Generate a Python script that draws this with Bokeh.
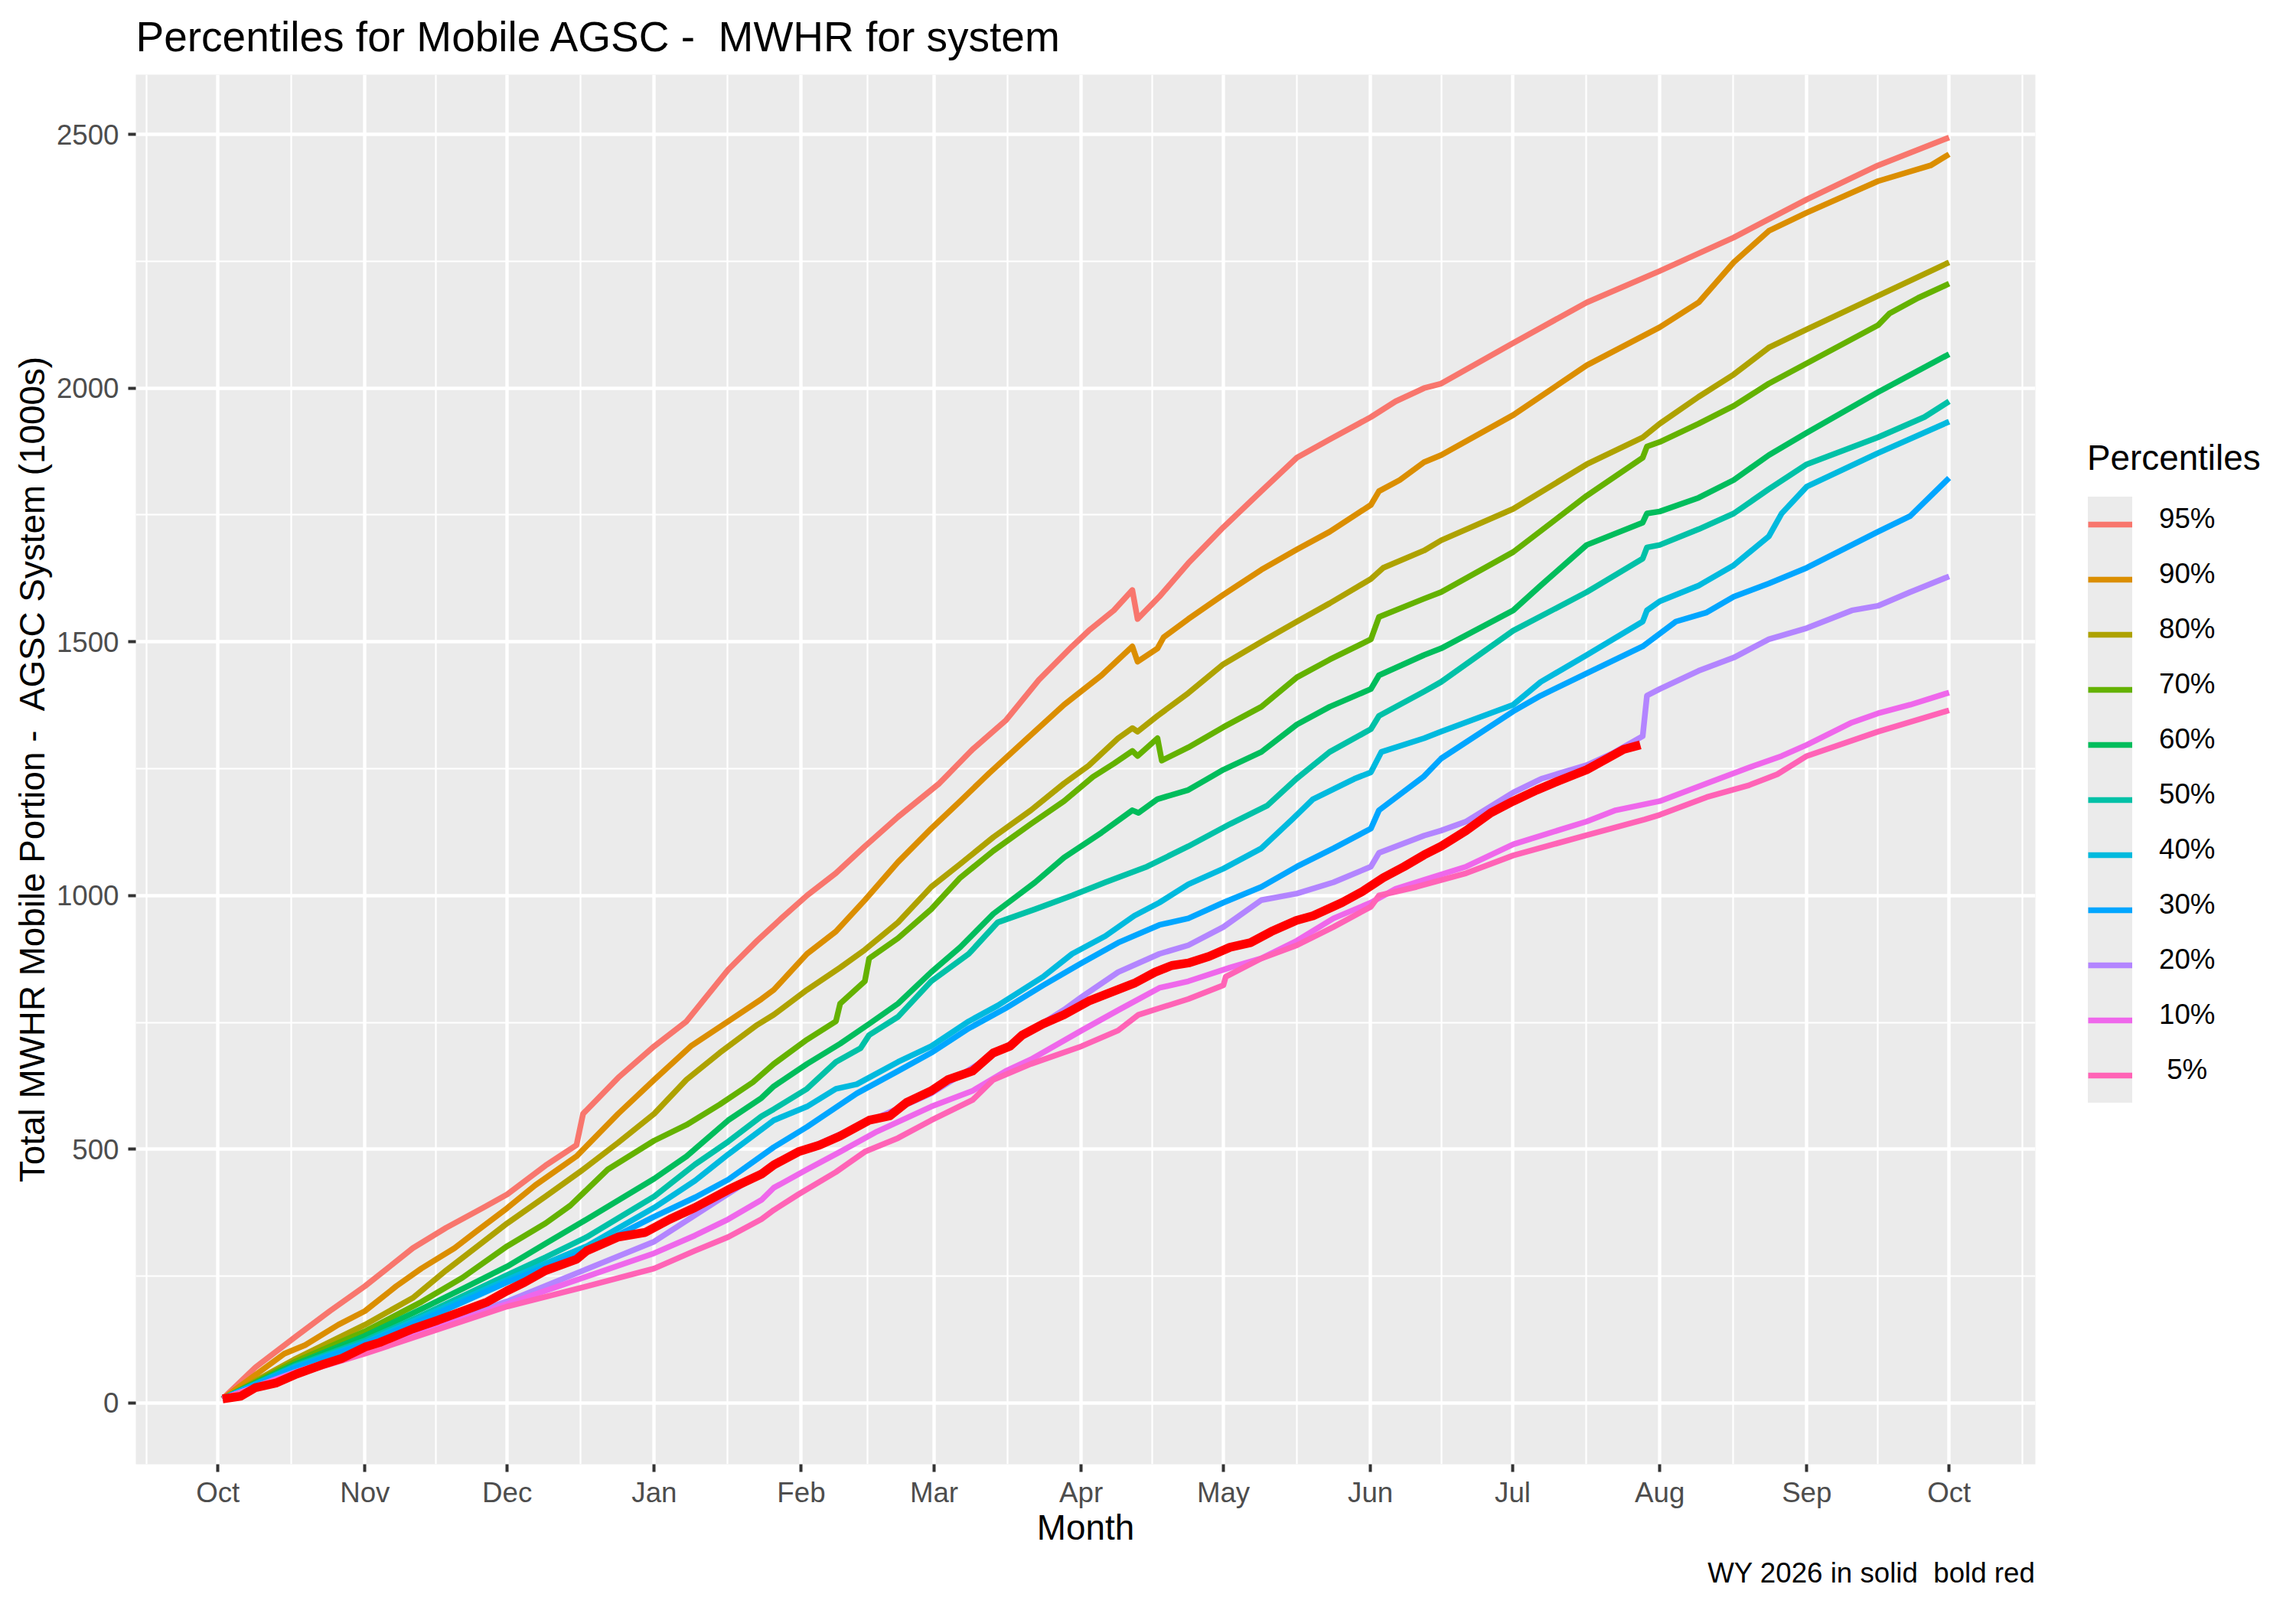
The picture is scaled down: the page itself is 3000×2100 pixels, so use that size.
from bokeh.plotting import figure
from bokeh.models import Range1d, FixedTicker, Legend, LegendItem, Title
from bokeh.layouts import row
from bokeh.embed import file_html
from bokeh.resources import INLINE

FONT = "Liberation Sans"

# ---- axis definitions (days since Oct 1 of water year) ----
month_days = [0, 31, 61, 92, 123, 151, 182, 212, 243, 273, 304, 335, 365]
month_labels = ["Oct", "Nov", "Dec", "Jan", "Feb", "Mar", "Apr", "May", "Jun", "Jul", "Aug", "Sep", "Oct"]
minor_days = [-15, 15.5, 46, 76.5, 107.5, 137, 166.5, 197, 227.5, 258, 288.5, 319.5, 350, 380.5]
y_ticks = [0, 500, 1000, 1500, 2000, 2500]
y_minor = [250, 750, 1250, 1750, 2250]

legend_labels = ["95%", "90%", "80%", "70%", "60%", "50%", "40%", "30%", "20%", "10%", " 5%"]
colors = ["#F8766D", "#DB8E00", "#AEA200", "#64B200", "#00BD5C", "#00C1A7",
          "#00BADE", "#00A6FF", "#B385FF", "#EF67EB", "#FF63B6"]

# ---- series (day, cumulative MWHR in 1000s) ----
p95_day = [1, 7.9, 16.6, 23.6, 31, 41.1, 48.1, 56, 61, 69.1, 75.6, 77, 84.4, 92, 98.8, 107.6, 113.7, 118.8,
           124.2, 130.3, 136.4, 143.4, 152.1, 159.1, 166.1, 173.1, 180.1, 183.6, 188.9, 192.8, 193.9, 198.5,
           204.6, 212, 220, 227.5, 234.4, 243.1, 248.3, 254.3, 257.9, 273.1, 288.6, 304, 319.6, 335, 350, 365]
p95_val = [8, 70, 132, 181, 230, 305, 345, 385, 411, 468, 508, 570, 641, 703, 752, 854, 911, 955,
           1000, 1044, 1097, 1155, 1221, 1288, 1345, 1425, 1491, 1522, 1562, 1602, 1545, 1589,
           1655, 1726, 1797, 1863, 1899, 1943, 1974, 2000, 2009, 2089, 2169, 2231, 2297, 2372, 2439, 2494]

p90_day = [1, 7.9, 14, 18.4, 25.4, 31, 37.6, 42.9, 49.9, 54.2, 61, 66.9, 75.6, 84.4, 92, 99.7, 107.6, 114.6,
           117.2, 124.2, 130.3, 136.4, 143.4, 150.4, 156.5, 162.6, 169.6, 178.4, 186.3, 192.8, 193.9, 198.1,
           199.4, 204.6, 212, 220, 227.5, 234.4, 243.1, 244.8, 249.2, 254.3, 257.9, 273.1, 288.6, 304, 312.2,
           319.6, 327, 335, 350, 361.1, 365]
p90_val = [8, 55, 97, 114, 154, 181, 230, 265, 305, 336, 384, 429, 486, 570, 637, 703, 752, 796,
           814, 885, 929, 991, 1066, 1132, 1186, 1241, 1301, 1376, 1434, 1491, 1461, 1487,
           1509, 1545, 1593, 1642, 1682, 1717, 1770, 1797, 1819, 1854, 1868, 1947, 2045, 2120, 2169,
           2248, 2310, 2346, 2408, 2439, 2461]

p80_day = [1, 16, 31, 41.1, 48.1, 56, 61, 69.1, 77, 84.4, 92, 98.8, 105.8, 113.7, 117.2, 124.2, 131.2,
           136.4, 143.4, 150.4, 156.5, 163.5, 171.4, 178.4, 183.6, 189.8, 192.8, 193.9, 198.1, 204.6, 212,
           220, 227.5, 234.4, 243.1, 245.7, 254.3, 257.9, 273.1, 288.6, 300.4, 304, 312.2, 319.6, 327, 335,
           350, 365]
p80_val = [8, 85, 154, 207, 261, 318, 354, 407, 460, 513, 570, 637, 690, 745, 765, 814, 858,
           893, 947, 1017, 1062, 1115, 1168, 1221, 1256, 1310, 1330, 1323, 1354, 1399, 1456,
           1500, 1540, 1576, 1624, 1646, 1680, 1700, 1762, 1850, 1903, 1930, 1983, 2027, 2080, 2116,
           2182, 2248]

p70_day = [1, 16, 31, 42.9, 51.6, 61, 69.1, 74.3, 82.2, 92, 98.8, 105.8, 112.8, 117.2, 124.2, 130.3,
           131.2, 136.4, 137.3, 143.4, 150.4, 156.5, 163.5, 171.4, 178.4, 184.5, 188.9, 192.8, 193.9,
           198.1, 199, 204.6, 212, 220, 227.5, 234.4, 243.1, 244.8, 254.3, 257.9, 273.1, 288.6, 300.4,
           301.3, 304, 312.2, 319.6, 327, 335, 350, 352.4, 358.5, 365]
p70_val = [8, 80, 141, 199, 247, 309, 354, 389, 460, 517, 548, 588, 632, 668, 716, 752,
           787, 831, 876, 916, 973, 1035, 1088, 1141, 1186, 1234, 1260, 1285, 1275,
           1310, 1266, 1292, 1332, 1372, 1430, 1465, 1505, 1549, 1585, 1598, 1677, 1788, 1863,
           1885, 1894, 1930, 1965, 2009, 2049, 2124, 2147, 2178, 2206]

p60_day = [1, 16, 31, 42.9, 51.6, 61, 69.1, 77.8, 92, 98.8, 107.6, 114.6, 117.2, 124.2, 131.2, 137.3,
           143.4, 150.4, 156.5, 163.5, 172.3, 178.4, 186.3, 192.8, 194.1, 198.1, 204.6, 212, 220, 227.5,
           234.4, 243.1, 244.8, 254.3, 257.9, 273.1, 278.9, 288.6, 300.4, 301.3, 304, 312.2, 319.6, 327,
           335, 350, 365]
p60_val = [8, 75, 132, 185, 225, 269, 314, 362, 442, 486, 557, 601, 624, 668, 708, 747,
           787, 849, 898, 964, 1026, 1075, 1124, 1168, 1163, 1190, 1208, 1248, 1283, 1337,
           1372, 1407, 1434, 1474, 1487, 1562, 1611, 1691, 1735, 1753, 1757, 1784, 1819, 1868,
           1912, 1992, 2067]

p50_day = [1, 16, 31, 42.9, 61, 69.1, 77.8, 92, 100.6, 107.6, 114.6, 117.2, 124.2, 130.3, 135.5, 137.3,
           143.4, 150.4, 158.3, 164.4, 172.3, 180.1, 187.1, 195.9, 204.6, 213.4, 221.2, 227.4, 234.4, 243.1,
           244.8, 254.3, 257.9, 273.1, 288.6, 300.4, 301.3, 304, 312.2, 319.6, 327, 335, 350, 359.8, 365]
p50_val = [8, 72, 123, 172, 252, 287, 327, 407, 470, 515, 565, 579, 619, 672, 699, 725,
           761, 831, 885, 947, 973, 1000, 1026, 1057, 1097, 1141, 1177, 1230, 1283, 1328,
           1354, 1402, 1421, 1522, 1598, 1664, 1686, 1691, 1722, 1753, 1801, 1850, 1903, 1943, 1974]

p40_day = [1, 16, 31, 61, 77.8, 92, 100.6, 107.6, 117.2, 124.2, 130.3, 134.7, 143.4, 150.4, 158.3,
           164.4, 174, 180.1, 187.1, 193.2, 198.5, 204.6, 212, 220, 226.5, 230.9, 239.6, 243.1, 245.3,
           254.3, 257.9, 273.1, 278.9, 288.6, 300.4, 301.3, 304, 312.2, 319.6, 327, 329.7, 335, 350, 365]
p40_val = [8, 70, 119, 243, 309, 385, 438, 490, 557, 584, 619, 628, 672, 703, 752,
           783, 840, 885, 920, 960, 986, 1022, 1053, 1093, 1150, 1190, 1230, 1243, 1283,
           1310, 1323, 1376, 1421, 1474, 1540, 1562, 1580, 1611, 1651, 1708, 1753, 1806, 1872, 1934]

p30_day = [1, 16, 31, 46, 61, 77.8, 92, 100.6, 107.6, 117.2, 124.2, 134.7, 143.4, 150.4, 158.3, 166.1,
           174, 182.1, 189.8, 198.5, 204.6, 212, 220, 227.5, 235.2, 243.1, 244.8, 254.3, 257.9, 273.1,
           278.9, 288.6, 300.4, 307.4, 313.9, 319.6, 327, 335, 350, 356.8, 365]
p30_val = [8, 68, 117, 175, 238, 300, 367, 405, 440, 504, 544, 610, 654, 690, 738, 778,
           823, 867, 907, 942, 955, 986, 1017, 1057, 1093, 1132, 1168, 1235, 1270, 1363,
           1394, 1438, 1491, 1540, 1558, 1589, 1615, 1646, 1717, 1748, 1823]

p20_day = [1, 16, 31, 61, 92, 117.2, 124.2, 137.3, 150.4, 165, 178.4, 182.1, 189.8, 198.5, 204.6, 212,
           220, 227.5, 235.2, 243.1, 244.8, 254.3, 257.9, 263.2, 273.1, 279, 288.6, 293.8, 300.4, 301.3,
           304, 312.2, 319.6, 327, 335, 344.5, 350, 356.8, 365]
p20_val = [8, 60, 105, 200, 318, 470, 500, 555, 610, 695, 775, 800, 849, 885, 902, 938,
           991, 1004, 1026, 1057, 1084, 1118, 1128, 1146, 1203, 1230, 1257, 1279, 1314, 1394,
           1407, 1443, 1469, 1505, 1527, 1562, 1571, 1598, 1629]

p10_day = [1, 16, 31, 61, 92, 100.6, 107.6, 114.6, 117.2, 124.2, 131.2, 139, 150.4, 159.1, 166.1,
           171.4, 182.1, 189.8, 198.5, 204.6, 213.4, 220, 227.5, 235.2, 243.1, 248.3, 254.3, 263.2,
           273.1, 288.6, 294.7, 304, 313.9, 322.7, 329.7, 335, 344.5, 350, 356.8, 365]
p10_val = [8, 58, 100, 195, 295, 330, 362, 400, 424, 460, 495, 535, 584, 615, 654,
           677, 734, 774, 818, 831, 858, 876, 911, 955, 986, 1013, 1031, 1057,
           1101, 1146, 1168, 1186, 1221, 1252, 1275, 1297, 1341, 1359, 1376, 1400]

p5_day = [1, 16, 31, 61, 77.8, 92, 100.6, 107.6, 114.6, 117.2, 122.4, 130.3, 136.4, 143.4, 150.4,
          159.1, 163.5, 171.4, 182.1, 189.8, 194.1, 204.6, 212, 212.5, 220, 227.5, 235.2, 243.1, 244.8,
          252.7, 263.2, 273.1, 288.6, 300.8, 304, 313.9, 322.7, 328.8, 335, 350, 365]
p5_val = [8, 55, 97, 190, 230, 265, 300, 327, 362, 380, 411, 455, 495, 522, 557,
          597, 637, 668, 703, 734, 765, 796, 823, 840, 876, 902, 938, 978, 1000,
          1017, 1044, 1079, 1119, 1150, 1159, 1194, 1217, 1239, 1275, 1323, 1365]

wy2026_day = [1, 4.8, 7.9, 12.2, 16.6, 21.9, 26.2, 31, 34.1, 41.1, 46.4, 51.6, 56.8, 61, 64.7, 69.1,
              75.6, 77.8, 84.4, 90.1, 95.3, 100.6, 107.6, 114.6, 117.2, 122.4, 126.8, 131.2, 137.3,
              141.7, 145.2, 150.4, 153.9, 159.1, 163.5, 167, 169.6, 174, 178.4, 183.6, 187.1, 193.2,
              197.6, 201.1, 204.6, 209, 213.4, 217.7, 222.1, 227.4, 230.9, 237, 241.3, 245.7, 250.1,
              254.3, 257.9, 263.2, 268.4, 273.1, 278.1, 282.4, 288.6, 292.9, 296.4, 299.9]
wy2026_val = [8, 13, 30, 39, 57, 75, 88, 110, 119, 146, 163, 181, 199, 221, 238, 261,
              283, 300, 327, 336, 362, 385, 420, 451, 469, 495, 508, 526, 557,
              566, 592, 615, 637, 654, 690, 703, 725, 747, 765, 792, 805, 827,
              849, 862, 867, 880, 898, 907, 929, 951, 960, 986, 1008, 1035, 1057,
              1080, 1097, 1128, 1163, 1186, 1208, 1225, 1248, 1270, 1288, 1297]

series_days = [p95_day, p90_day, p80_day, p70_day, p60_day, p50_day, p40_day, p30_day, p20_day, p10_day, p5_day]
series_vals = [p95_val, p90_val, p80_val, p70_val, p60_val, p50_val, p40_val, p30_val, p20_val, p10_val, p5_val]

NB = "\u00a0"

# ---- main figure ----
p = figure(width=2668, height=2084, output_backend="svg", toolbar_location=None,
           x_range=Range1d(-17.3, 383.2), y_range=Range1d(-121, 2618),
           min_border_left=177, min_border_right=9, min_border_top=97, min_border_bottom=171)
p.background_fill_color = "#EBEBEB"
p.border_fill_color = "white"
p.outline_line_color = None

p.title.text = "Percentiles for Mobile AGSC - " + NB + "MWHR for system"
p.title.text_font = FONT
p.title.text_font_size = "55px"
p.title.text_font_style = "normal"
p.title.text_color = "black"
p.title.align = "left"
p.title.vertical_align = "top"
p.title.standoff = 33

p.xaxis.ticker = FixedTicker(ticks=month_days, minor_ticks=minor_days)
p.xaxis.major_label_overrides = {d: l for d, l in zip(month_days, month_labels)}
p.yaxis.ticker = FixedTicker(ticks=y_ticks, minor_ticks=y_minor)

for ax in (p.xaxis[0], p.yaxis[0]):
    ax.axis_line_color = None
    ax.major_tick_in = 0
    ax.major_tick_out = 10
    ax.major_tick_line_color = "#333333"
    ax.major_tick_line_width = 4
    ax.minor_tick_in = 0
    ax.minor_tick_out = 0
    ax.major_label_text_font = FONT
    ax.major_label_text_font_size = "36.7px"
    ax.major_label_text_color = "#4D4D4D"
    ax.axis_label_text_font = FONT
    ax.axis_label_text_font_size = "45.8px"
    ax.axis_label_text_font_style = "normal"
    ax.axis_label_text_color = "black"

p.xaxis.axis_label = "Month"
p.xaxis.major_label_standoff = 6
p.xaxis.axis_label_standoff = -3
p.yaxis.axis_label = "Total MWHR Mobile Portion - " + NB + "AGSC System (1000s)"
p.yaxis.major_label_standoff = 12
p.yaxis.axis_label_standoff = 3

for g in (p.xgrid[0], p.ygrid[0]):
    g.grid_line_color = "white"
    g.grid_line_width = 4.4
    g.minor_grid_line_color = "white"
    g.minor_grid_line_width = 2.2

for d, v, c in zip(series_days, series_vals, colors):
    p.line(d, v, line_color=c, line_width=7.5, line_join="round")
p.line(wy2026_day, wy2026_val, line_color="#FF0000", line_width=11.5, line_join="round")

caption = Title(text="WY 2026 in solid " + NB + "bold red", align="right", text_font=FONT,
                text_font_size="36.7px", text_font_style="normal", text_color="black", standoff=16)
p.add_layout(caption, "below")

# ---- legend panel (separate figure to the right; its frame is aligned with the main frame) ----
pl = figure(width=316, height=2084, output_backend="svg", toolbar_location=None,
            x_range=Range1d(0, 1), y_range=Range1d(0, 1),
            x_axis_location=None, y_axis_location=None, title_location=None,
            min_border=0, min_border_left=0, min_border_right=0, min_border_top=0, min_border_bottom=0)
pl.outline_line_color = None
pl.background_fill_color = "white"
pl.border_fill_color = "white"
pl.grid.visible = False

nan = float("nan")
key_renderers = [pl.line([nan], [nan], line_color=c, line_width=7.5) for c in colors]

# grey key column (keys drawn 58px wide inside a 72px grey box)
leg_keys = Legend(items=[LegendItem(label=" ", renderers=[r]) for r in key_renderers],
                  location=(60, 472), orientation="vertical", padding=7, spacing=0, margin=0,
                  glyph_width=58, glyph_height=72, label_standoff=0, label_width=0, label_height=0,
                  label_text_font_size="1px",
                  background_fill_color="#EBEBEB", background_fill_alpha=1.0, border_line_color=None)
pl.add_layout(leg_keys)

leg_text = Legend(items=[LegendItem(label=lab.replace(" ", NB), renderers=[r])
                         for lab, r in zip(legend_labels, key_renderers)],
                  title="Percentiles", location=(59, 479), orientation="vertical",
                  padding=0, spacing=0, margin=0, glyph_width=0, glyph_height=72,
                  label_standoff=94, label_height=72,
                  label_text_font=FONT, label_text_font_size="36.7px", label_text_color="black",
                  title_text_font=FONT, title_text_font_size="45.8px", title_text_font_style="normal",
                  title_text_color="black", title_standoff=17,
                  background_fill_alpha=0.0, border_line_color=None)
pl.add_layout(leg_text)

layout = row(p, pl)
open("out.html", "w").write(file_html(layout, INLINE))
